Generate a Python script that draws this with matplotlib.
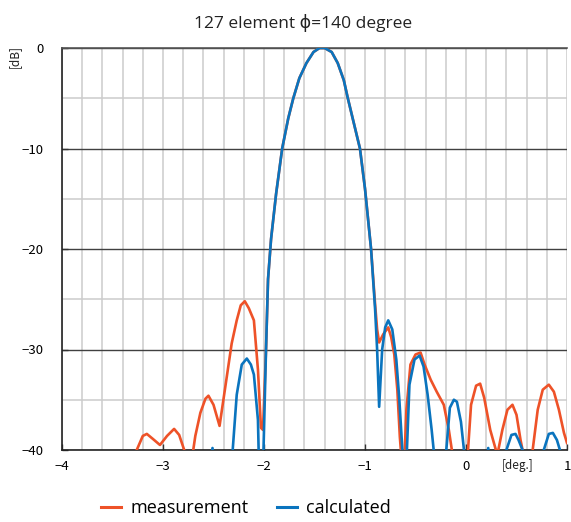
import numpy as np
import matplotlib
matplotlib.use("Agg")
import matplotlib.pyplot as plt
from matplotlib.ticker import MultipleLocator

title = "127 element \u03d5=140 degree"
series_names = ["measurement", "calculated"]

meas_x = [-3.35, -3.26, -3.20, -3.16, -3.10, -3.03, -2.96, -2.89, -2.84, -2.79, -2.73,
          -2.68, -2.63, -2.58, -2.55, -2.50, -2.44, -2.38, -2.32, -2.27, -2.23, -2.19,
          -2.15, -2.10, -2.06, -2.03, -2.01, -1.98, -1.96, -1.93, -1.88, -1.82, -1.76,
          -1.71, -1.65, -1.58, -1.51, -1.45, -1.40, -1.33, -1.27, -1.21, -1.17, -1.11,
          -1.05, -1.00, -0.94, -0.90, -0.88, -0.86, -0.82, -0.77, -0.74, -0.71, -0.68,
          -0.655, -0.63, -0.61, -0.59, -0.55, -0.50, -0.45, -0.41, -0.35, -0.29, -0.22,
          -0.17, -0.14, -0.08, -0.02, 0.02, 0.05, 0.10, 0.14, 0.18, 0.24, 0.31,
          0.36, 0.41, 0.46, 0.50, 0.54, 0.58, 0.62, 0.66, 0.71, 0.76, 0.82, 0.87,
          0.92, 0.97, 1.00]
meas_db = [-45, -40, -38.6, -38.4, -38.9, -39.5, -38.6, -37.9, -38.5, -40.0, -42,
           -38.6, -36.3, -34.9, -34.6, -35.5, -37.6, -33.5, -29.4, -27.1, -25.6, -25.2,
           -25.9, -27.1, -32, -37.8, -38, -30, -23, -19, -14.5, -10, -7,
           -5, -3, -1.5, -0.4, 0, 0, -0.4, -1.5, -3.2, -5, -7.5,
           -10, -14, -20, -25.5, -28, -29.3, -28.5, -27.8, -28.8, -30.5, -34,
           -38.7, -42, -41, -36, -31.5, -30.5, -30.3, -31.5, -33, -34.2, -35.5,
           -38, -40, -43, -43, -40, -35.5, -33.6, -33.4, -34.8, -38, -40.5,
           -38, -36, -35.5, -36.5, -39, -41, -41, -40, -36, -34, -33.5, -34.2,
           -36, -38.3, -39.3]

calc_x = [-2.53, -2.51, -2.49, -2.34, -2.31, -2.27, -2.22, -2.17, -2.13, -2.10, -2.06,
          -2.035, -2.015, -2.005, -1.98, -1.96, -1.93, -1.88, -1.82, -1.76, -1.71,
          -1.65, -1.58, -1.51, -1.45, -1.40, -1.33, -1.27, -1.21, -1.17, -1.11, -1.05,
          -1.00, -0.94, -0.90, -0.88, -0.86, -0.83, -0.80, -0.77, -0.73, -0.69, -0.66,
          -0.63, -0.61, -0.585, -0.56, -0.51, -0.46, -0.42, -0.38, -0.34, -0.32, -0.28,
          -0.22, -0.195, -0.16, -0.12, -0.09, -0.05, -0.02, 0.00, 0.20, 0.22, 0.24,
          0.38, 0.40, 0.45, 0.49, 0.52, 0.56, 0.58, 0.75, 0.77, 0.82, 0.86, 0.90,
          0.93, 0.96, 1.00]
calc_db = [-42, -39.8, -42, -45, -40, -34.5, -31.5, -30.9, -31.5, -32.5, -37,
           -48, -48, -40, -30, -23, -19, -14.5, -10, -7, -5,
           -3, -1.5, -0.4, 0, 0, -0.4, -1.5, -3.2, -5, -7.5, -10,
           -14, -20, -26, -30, -35.7, -30, -27.8, -27.1, -28, -31, -35,
           -40, -45, -40, -33.5, -31.0, -30.6, -31.7, -34.5, -38, -40, -45,
           -45, -40, -35.8, -35, -35.2, -37.2, -40, -45, -42, -39.8, -42,
           -45, -40, -38.5, -38.4, -39, -40, -45, -45, -40, -38.4, -38.3, -39,
           -40, -45, -45]

x_ticks = [-4, -3, -2, -1, 0, 1]
y_ticks = [0, -10, -20, -30, -40]

red = "#EE5228"
blue = "#0A74BE"

fig = plt.figure(figsize=(5.71, 5.22), dpi=100)
ax = fig.add_axes([62/571, 1-450/522, (567-62)/571, (450-48)/522])

ax.set_xlim(-4, 1)
ax.set_ylim(-40, 0)

# grid
ax.xaxis.set_minor_locator(MultipleLocator(0.2))
ax.yaxis.set_minor_locator(MultipleLocator(5))
ax.grid(which="minor", axis="both", color="#CCCCCC", lw=1.1)
ax.grid(which="major", axis="x", color="#CCCCCC", lw=1.1)
ax.grid(which="major", axis="y", color="#404040", lw=1.0)
ax.set_axisbelow(True)

ax.plot(meas_x, meas_db, color=red, lw=1.9, label=series_names[0], zorder=3)
ax.plot(calc_x, calc_db, color=blue, lw=1.9, label=series_names[1], zorder=4)

ax.set_xticks(x_ticks)
ax.set_yticks(y_ticks)
ax.tick_params(which="minor", length=0)
ax.tick_params(which="major", direction="in", length=4, width=1, color="#333333")
tick_font = "Noto Sans CJK JP"
for lab in ax.get_xticklabels() + ax.get_yticklabels():
    lab.set_family(tick_font)
    lab.set_fontsize(9.5)
ax.tick_params(axis="y", pad=13)
ax.tick_params(axis="x", pad=7)

for side in ["left", "bottom"]:
    ax.spines[side].set_color("#222222")
    ax.spines[side].set_linewidth(1.2)
ax.spines["top"].set_color("#555555")
ax.spines["top"].set_linewidth(1.2)
ax.spines["right"].set_visible(False)

fig.text(303/571, 1-23/522, title, ha="center", va="center", fontsize=12.5,
         family=["Open Sans", "DejaVu Sans"], color="#222222")
fig.text(14/571, 1-57/522, "[dB]", rotation=90, ha="center", va="center",
         fontsize=8.5, family=tick_font, color="#222222")
fig.text(518/571, 1-466/522, "[deg.]", ha="center", va="center",
         fontsize=8.5, family=tick_font, color="#222222")

leg = fig.legend(loc="center", bbox_to_anchor=(246/571, 1-508/522), ncol=2,
                 frameon=False, handlelength=1.1, columnspacing=1.6, handletextpad=0.5,
                 prop={"family": "Open Sans", "size": 13})
for line in leg.get_lines():
    line.set_linewidth(2.2)

fig.savefig("out.png", dpi=100)
